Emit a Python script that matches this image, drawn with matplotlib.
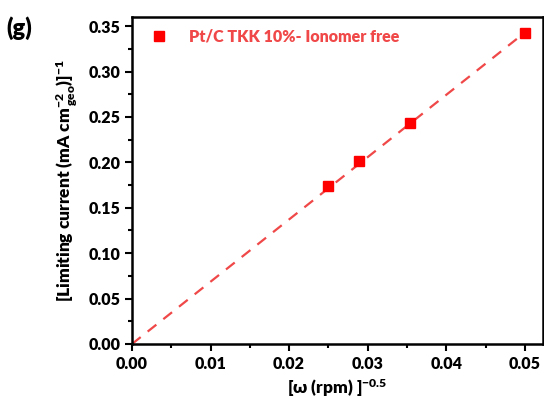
import matplotlib
matplotlib.use("Agg")
import matplotlib.pyplot as plt
from matplotlib.ticker import MultipleLocator

plt.rcParams['font.family'] = ['Lato', 'Open Sans', 'DejaVu Sans']
plt.rcParams['font.weight'] = 'heavy'
plt.rcParams['mathtext.fontset'] = 'custom'
plt.rcParams['mathtext.rm'] = 'Lato:heavy'
plt.rcParams['mathtext.bf'] = 'Lato:heavy'
plt.rcParams['mathtext.it'] = 'Lato:heavy'

# data
x_vals = [0.0250, 0.0289, 0.0354, 0.0500]
y_vals = [0.174, 0.201, 0.243, 0.343]
fit_x = [0.0, 0.0500]
fit_y = [0.0, 0.343]
series_label = "Pt/C TKK 10%- Ionomer free"

fig = plt.figure(figsize=(5.44, 4.07), dpi=100)
ax = fig.add_axes([0.2426, 0.1548, 0.7554, 0.8032])

ax.plot(fit_x, fit_y, linestyle=(0, (5, 4)), color='#f04848', lw=1.6, zorder=2)
ax.plot(x_vals, y_vals, linestyle='none', marker='s', markersize=7,
        color='#ff0000', label=series_label, zorder=3)

ax.set_xlim(0, 0.0523)
ax.set_ylim(0, 0.360)
ax.xaxis.set_major_locator(MultipleLocator(0.01))
ax.xaxis.set_minor_locator(MultipleLocator(0.005))
ax.yaxis.set_major_locator(MultipleLocator(0.05))
ax.yaxis.set_minor_locator(MultipleLocator(0.025))
ax.xaxis.set_major_formatter(matplotlib.ticker.FormatStrFormatter('%.2f'))
ax.yaxis.set_major_formatter(matplotlib.ticker.FormatStrFormatter('%.2f'))

ax.tick_params(which='major', direction='out', length=5, width=1.5, labelsize=11.5)
ax.tick_params(which='minor', direction='out', length=3, width=1.5)
for lbl in ax.get_xticklabels() + ax.get_yticklabels():
    lbl.set_fontweight('heavy')
for s in ax.spines.values():
    s.set_linewidth(1.8)

ax.set_xlabel(r'[ω (rpm) ]$^{-0.5}$', fontsize=12.5, fontweight='heavy', labelpad=4)
ax.set_ylabel(r'[Limiting current (mA cm$^{-2}_{\,geo}$)]$^{-1}$', fontsize=12.5,
              fontweight='heavy', labelpad=6)

leg = ax.legend(loc='upper left', frameon=False, fontsize=11.5, handletextpad=0.9,
                borderaxespad=0.3, markerscale=1.0)
for t in leg.get_texts():
    t.set_color('#f04848')
    t.set_fontweight('heavy')

fig.text(0.012, 0.96, '(g)', fontsize=17, fontweight='heavy', va='top', ha='left')

fig.savefig('out.png', dpi=100)
